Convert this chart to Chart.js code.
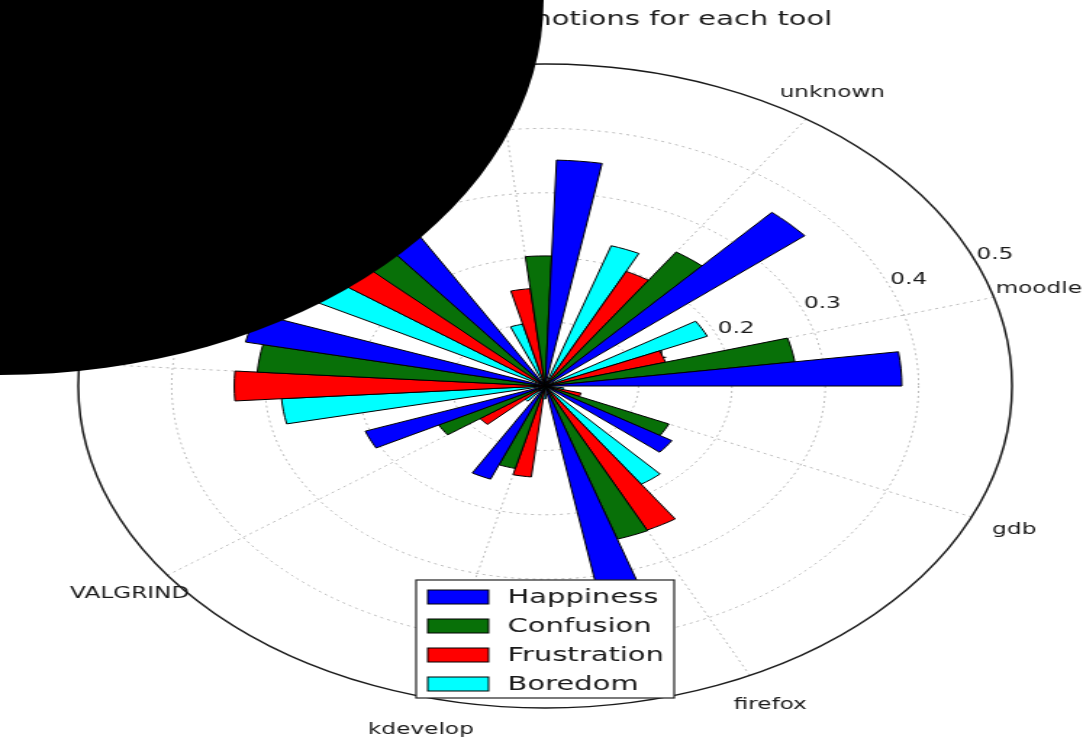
<!DOCTYPE html>
<html>
<head>
<meta charset="utf-8">
<script src="https://cdn.jsdelivr.net/npm/chart.js@4.4.1/dist/chart.umd.min.js"></script>
<style>
  html, body { margin: 0; padding: 0; background: #fff; overflow: hidden; }
  /* the dial is laid out round, then widened to fill the page */
  #stage { width: 747px; height: 742px; transform: scaleX(1.4498); transform-origin: 0 0; }
  canvas { display: block; }
</style>
</head>
<body>
<div id="stage"><canvas id="chart" width="747" height="742"></canvas></div>
<script>
// Tools around the dial, counter-clockwise from the right-hand side
const tools = ['moodle', 'unknown', 'eclipse', 'gedit', 'terminal', 'VALGRIND', 'kdevelop', 'firefox', 'gdb'];
const emotions = ['Happiness', 'Confusion', 'Frustration', 'Boredom'];
const happiness   = [0.382, 0.363, 0.351, 0.340, 0.328, 0.205, 0.156, 0.440, 0.160];
const confusion   = [0.270, 0.251, 0.202, 0.300, 0.309, 0.129, 0.132, 0.250, 0.145];
const frustration = [0.134, 0.198, 0.152, 0.280, 0.333, 0.086, 0.142, 0.249, 0.040];
const boredom     = [0.190, 0.229, 0.099, 0.290, 0.283, 0.030, 0.020, 0.184, 0.020];
const radialTicks = [0.1, 0.2, 0.3, 0.4, 0.5];
const emotionColors = ['#0000ff', '#087008', '#ff0000', '#00ffff'];
const titleText = 'Mean weights of emotions for each tool';

const series = [happiness, confusion, frustration, boredom];
const SLOTS = emotions.length + 1;          // four bars plus one empty slot per tool
const N = tools.length * SLOTS;

// Slot k runs counter-clockwise, chart index i runs clockwise: i = N - 1 - k
const values = [], labels = [], colors = [], isBar = [];
for (let i = 0; i < N; i++) {
  const k = N - 1 - i;
  const g = Math.floor(k / SLOTS), m = k % SLOTS;
  if (m < emotions.length) {
    values.push(series[m][g]);
    labels.push(tools[g] + ' - ' + emotions[m]);
    colors.push(emotionColors[m]);
    isBar.push(true);
  } else {
    values.push(0);
    labels.push('');
    colors.push('rgba(0,0,0,0)');
    isBar.push(false);
  }
}

// One spoke per tool, halfway through its group of four bars
const spokeTool = {};
tools.forEach((t, g) => { spokeTool[(N - (g * SLOTS + 2)) % N] = t; });

const FONT = '"DejaVu Sans", "Liberation Sans", sans-serif';
Chart.defaults.font.family = FONT;

// Radial tick labels (under the bars) and tool names around the rim
const dialText = {
  id: 'dialText',
  beforeDatasetsDraw(chart) {
    const r = chart.scales.r, ctx = chart.ctx;
    ctx.save();
    ctx.font = '16px ' + FONT;
    ctx.fillStyle = '#1a1a1a';
    ctx.textAlign = 'left';
    ctx.textBaseline = 'bottom';
    const tickIndex = N * (1 - 22.5 / 360);   // 22.5 degrees above the right-hand axis
    radialTicks.forEach(v => {
      const p = r.getPointPosition(tickIndex, r.getDistanceFromCenterForValue(v));
      ctx.fillText(v.toFixed(1), p.x, p.y);
    });
    ctx.restore();
  },
  afterDatasetsDraw(chart) {
    const r = chart.scales.r, ctx = chart.ctx;
    ctx.save();
    ctx.font = '16px ' + FONT;
    ctx.fillStyle = '#1a1a1a';
    ctx.textAlign = 'center';
    ctx.textBaseline = 'middle';
    Object.keys(spokeTool).forEach(idx => {
      const p = r.getPointPosition(Number(idx), r.drawingArea * 1.1);
      ctx.fillText(spokeTool[idx], p.x, p.y);
    });
    ctx.restore();
  }
};

// Framed legend below the centre, then the dark disc in the top-left corner
const overlay = {
  id: 'overlay',
  afterDraw(chart) {
    const r = chart.scales.r, ctx = chart.ctx;
    const w = 178, h = 118;
    const x0 = r.xCenter - w / 2, y0 = r.yCenter + 194;
    ctx.save();
    ctx.fillStyle = '#fff';
    ctx.fillRect(x0, y0, w, h);
    ctx.strokeStyle = '#222';
    ctx.lineWidth = 1.2;
    ctx.strokeRect(x0, y0, w, h);
    ctx.font = '20px ' + FONT;
    ctx.textAlign = 'left';
    ctx.textBaseline = 'middle';
    emotions.forEach((name, m) => {
      const cy = y0 + 17 + m * 29;
      ctx.fillStyle = emotionColors[m];
      ctx.fillRect(x0 + 8, cy - 7, 42, 14);
      ctx.strokeStyle = '#000';
      ctx.lineWidth = 1;
      ctx.strokeRect(x0 + 8, cy - 7, 42, 14);
      ctx.fillStyle = '#1a1a1a';
      ctx.fillText(name, x0 + 63, cy + 1);
    });
    ctx.beginPath();
    ctx.arc(0, 0, 375, 0, Math.PI * 2);
    ctx.fillStyle = '#000';
    ctx.fill();
    ctx.restore();
  }
};

new Chart(document.getElementById('chart'), {
  type: 'polarArea',
  data: {
    labels: labels,
    datasets: [{
      data: values,
      backgroundColor: colors,
      borderColor: '#000',
      borderWidth: ctx => (isBar[ctx.dataIndex] ? 1 : 0),
      borderAlign: 'center'
    }]
  },
  options: {
    responsive: false,
    animation: false,
    events: [],
    layout: { padding: { left: 54, right: 49, top: 0, bottom: 34 } },
    scales: {
      r: {
        min: 0,
        max: 0.5,
        startAngle: 90,
        ticks: { display: false, stepSize: 0.1 },
        pointLabels: { display: false },
        grid: {
          circular: true,
          color: ctx => (ctx.tick && ctx.tick.value > 0.49 ? '#1a1a1a' : 'rgba(0,0,0,0.28)'),
          lineWidth: ctx => (ctx.tick && ctx.tick.value > 0.49 ? 1.5 : 1)
        },
        border: {
          dash: ctx => (ctx.tick && ctx.tick.value > 0.49 ? [] : [2, 3])
        },
        angleLines: {
          display: true,
          color: 'rgba(0,0,0,0.28)',
          lineWidth: ctx => (spokeTool[ctx.index] !== undefined ? 1 : 0),
          borderDash: [2, 3]
        }
      }
    },
    plugins: {
      legend: { display: false },
      tooltip: { enabled: false },
      title: {
        display: true,
        fullSize: false,
        text: titleText,
        color: '#1a1a1a',
        font: { family: FONT, size: 20, weight: 'normal' },
        padding: { top: 8, bottom: 32 }
      }
    }
  },
  plugins: [dialText, overlay]
});
</script>
</body>
</html>
